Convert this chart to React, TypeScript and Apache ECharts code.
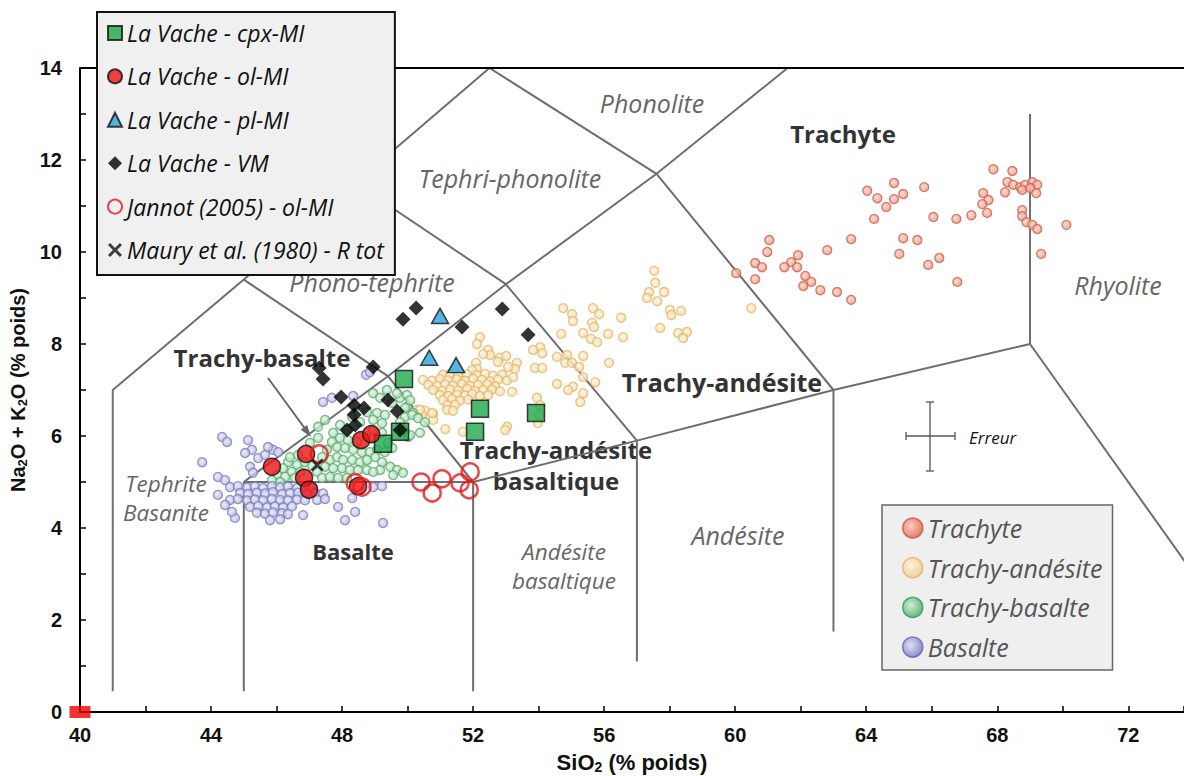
import React, { useEffect, useRef } from 'react';
import * as echarts from 'echarts';

// ---------- axes ----------
const X_MIN = 40;
const X_MAX = 73.7;
const Y_MIN = 0;
const Y_MAX = 14;
const xTickLabels = [40, 44, 48, 52, 56, 60, 64, 68, 72];
const yTickLabels = [0, 2, 4, 6, 8, 10, 12, 14];

// ---------- TAS field boundaries ----------
const boundaries: [number, number][][] = [
  [[41, 0.45], [41, 7], [45, 9.4], [48.4, 11.5], [52.5, 14]],
  [[45, 0.45], [45, 5], [52, 5]],
  [[45, 5], [49.4, 7.3], [53, 9.3], [57.6, 11.7], [61.6, 14]],
  [[45, 9.4], [49.4, 7.3], [52, 5], [52, 0.45]],
  [[48.4, 11.5], [53, 9.3], [57, 5.9], [57, 1.1]],
  [[52.5, 14], [57.6, 11.7], [63, 7], [63, 1.75]],
  [[52, 5], [57, 5.9], [63, 7], [69, 8], [77, 0]],
  [[69, 8], [69, 13]],
];
const topLine: [number, number][] = [[40, 14], [73.7, 14]];

// ---------- reference lavas (background) ----------
const trachyte: [number, number][] = [
  [67.88, 11.8], [68.46, 11.76], [68.31, 11.52], [68.49, 11.46], [68.7, 11.41], [68.85, 11.46], [69.07, 11.52],
  [69.22, 11.46], [68.24, 11.3], [68.76, 11.35], [69.01, 11.39], [69.19, 11.28], [67.57, 11.28], [67.73, 11.13],
  [67.54, 11.04], [67.69, 10.85], [67.21, 10.8], [66.75, 10.72], [66.05, 10.76], [65.77, 11.41], [65.13, 11.26],
  [64.85, 11.5], [64.85, 11.15], [64.61, 10.98], [64.34, 11.17], [64.03, 11.33], [64.24, 10.72], [68.76, 10.91],
  [68.76, 10.78], [68.89, 10.65], [69.07, 10.59], [69.22, 10.5], [70.11, 10.59], [69.34, 9.96], [65.13, 10.3],
  [65.56, 10.26], [65.01, 9.96], [66.23, 9.87], [65.89, 9.72], [66.78, 9.35], [63.54, 10.28], [62.81, 10.04],
  [61.92, 9.93], [61.71, 9.78], [61.89, 9.67], [61.5, 9.67], [62.14, 9.48], [62.32, 9.35], [62.08, 9.26],
  [62.6, 9.17], [63.11, 9.13], [63.54, 8.96], [61.04, 10.26], [60.98, 10.0], [60.61, 9.76], [60.82, 9.67],
  [60.61, 9.41], [60.03, 9.54],
];

const trachyAndesite: [number, number][] = [
  [57.53, 9.59], [57.56, 9.33], [57.37, 9.13], [57.83, 9.13], [57.62, 8.93], [57.31, 9.0], [58.01, 8.74],
  [58.35, 8.72], [58.05, 8.63], [57.71, 8.35], [58.26, 8.24], [58.53, 8.26], [58.41, 8.13],
  [54.75, 8.78], [55.02, 8.65], [55.05, 8.5], [55.66, 8.78], [55.85, 8.65], [55.63, 8.46], [55.69, 8.37],
  [56.52, 8.57], [54.69, 8.22], [55.36, 8.24], [55.6, 8.11], [55.79, 8.04], [56.12, 8.22], [56.58, 8.15],
  [54.05, 7.93], [54.11, 7.8], [53.83, 7.87], [54.56, 7.72], [54.87, 7.76], [55.36, 7.74], [54.81, 7.59],
  [55.02, 7.59], [55.24, 7.5], [53.89, 7.48], [54.11, 7.48], [56.15, 7.59], [55.36, 7.28], [55.73, 7.17],
  [54.56, 7.13], [55.05, 7.07], [54.9, 7.0], [55.36, 6.93], [55.27, 6.74], [60.49, 8.78],
  [52.21, 8.15], [52.12, 8.0], [52.46, 7.87], [52.52, 7.76], [52.31, 7.78], [52.82, 7.7], [53.01, 7.74],
  [52.76, 7.61], [53.34, 7.59], [53.28, 7.46], [53.07, 7.5], [52.09, 7.59], [52.12, 7.46], [51.97, 7.43],
  [51.08, 7.33], [51.3, 7.35], [51.54, 7.31], [51.82, 7.34], [52.12, 7.32], [52.37, 7.35], [52.61, 7.31], [52.89, 7.33],
  [50.47, 7.22], [50.75, 7.2], [50.99, 7.24], [51.24, 7.21], [51.51, 7.23], [51.76, 7.2], [52.0, 7.24],
  [52.27, 7.22], [52.52, 7.19], [52.76, 7.23], [53.04, 7.21],
  [50.63, 7.11], [50.9, 7.09], [51.15, 7.12], [51.39, 7.1], [51.66, 7.13], [51.91, 7.09], [52.15, 7.11],
  [52.43, 7.12], [52.67, 7.08],
  [50.78, 7.0], [51.05, 6.98], [51.3, 7.01], [51.54, 6.99], [51.82, 7.02], [52.06, 6.98], [52.31, 7.0],
  [52.58, 7.01], [52.82, 6.97],
  [50.99, 6.89], [51.24, 6.87], [51.51, 6.9], [51.76, 6.88], [51.97, 6.91], [52.21, 6.87], [52.46, 6.89],
  [51.08, 6.78], [51.36, 6.8], [51.6, 6.77], [51.85, 6.79],
  [51.21, 6.67], [51.45, 6.68],
  [50.29, 6.57], [50.53, 6.55], [51.21, 6.57], [51.39, 6.55],
  [50.44, 6.46], [50.78, 6.48], [50.78, 6.35],
  [53.19, 6.96], [53.22, 7.28], [53.95, 6.83], [54.05, 6.67], [53.98, 6.28], [53.04, 6.2], [52.98, 6.13],
  [51.15, 6.15], [51.69, 6.09], [50.38, 6.57], [50.75, 6.5], [54.02, 6.46],
];

const trachyBasalte: [number, number][] = [
  [48.95, 6.93], [49.16, 6.83], [49.53, 6.72], [49.77, 6.83], [49.98, 6.63], [49.07, 6.5], [49.31, 6.46],
  [48.95, 6.35], [49.22, 6.28], [48.76, 6.52], [48.31, 6.41], [48.55, 6.3], [47.94, 6.24], [48.15, 6.13],
  [47.73, 6.07], [47.94, 5.96], [48.18, 5.91], [48.46, 5.87], [47.69, 5.87], [47.85, 5.76], [48.09, 5.74],
  [48.34, 5.7], [48.61, 5.65], [48.85, 5.65], [49.07, 5.7], [49.31, 5.65], [49.53, 5.74], [49.01, 5.54],
  [49.22, 5.43], [49.47, 5.33], [49.68, 5.26], [49.86, 5.2], [49.16, 5.26], [49.56, 5.15], [47.54, 5.7],
  [47.39, 5.54], [47.63, 5.48], [47.85, 5.54], [48.03, 5.48], [48.31, 5.48], [48.55, 5.43], [48.76, 5.48],
  [47.48, 5.33], [47.73, 5.3], [48.0, 5.3], [48.24, 5.26], [48.49, 5.26], [48.76, 5.26], [48.95, 5.22],
  [47.24, 5.22], [47.39, 5.09], [47.63, 5.11], [47.88, 5.09], [48.15, 5.09], [46.35, 5.43], [46.63, 5.37],
  [46.2, 5.3], [46.47, 5.22], [46.72, 5.22], [46.02, 5.15], [46.26, 5.11], [46.56, 5.09], [45.86, 5.04],
  [46.11, 5.0], [46.41, 5.54], [46.66, 5.59], [47.02, 5.85], [47.27, 5.96], [49.92, 6.41], [49.77, 6.3],
  [50.17, 6.5], [48.95, 6.13], [49.22, 6.07], [48.95, 5.96], [49.86, 6.13], [50.02, 5.98], [49.4, 5.85],
  [49.37, 7.0], [49.68, 6.93], [49.98, 6.89], [50.08, 6.78], [49.92, 6.61], [50.14, 6.46], [50.32, 6.39],
  [50.53, 6.3], [50.38, 6.07], [50.08, 6.02], [47.48, 6.35], [47.27, 6.2], [46.87, 5.43], [47.09, 5.35],
];

const basalte: [number, number][] = [
  [44.34, 5.98], [44.49, 5.87], [45.13, 5.91], [45.25, 5.7], [43.73, 5.43], [45.89, 5.7], [46.05, 5.65],
  [45.44, 5.52], [45.65, 5.59], [45.19, 5.33], [45.28, 5.2], [44.21, 5.11], [44.43, 5.04], [47.42, 6.74],
  [47.69, 6.83], [48.34, 6.87], [48.73, 7.33], [48.85, 7.39], [45.04, 5.63], [45.74, 5.76],
  [44.58, 4.89], [44.82, 4.91], [45.1, 4.88], [45.34, 4.9], [45.59, 4.87], [45.86, 4.91], [46.11, 4.88],
  [46.35, 4.9], [46.63, 4.87], [46.87, 4.9], [47.11, 4.88],
  [44.89, 4.76], [45.13, 4.74], [45.4, 4.77], [45.65, 4.75], [45.89, 4.78], [46.17, 4.74], [46.41, 4.76],
  [46.66, 4.77], [46.93, 4.74], [47.18, 4.76], [47.42, 4.75],
  [44.58, 4.61], [44.82, 4.63], [45.1, 4.6], [45.34, 4.62], [45.59, 4.6], [45.86, 4.63], [46.11, 4.61],
  [46.35, 4.6], [46.63, 4.62], [46.87, 4.6], [47.24, 4.61], [47.48, 4.63],
  [45.19, 4.46], [45.44, 4.48], [45.71, 4.45], [45.95, 4.47], [46.2, 4.45], [46.47, 4.47],
  [45.4, 4.33], [45.65, 4.31], [45.89, 4.34], [46.17, 4.32], [46.35, 4.3],
  [45.8, 4.17], [46.11, 4.19], [44.73, 4.22], [46.81, 4.28], [47.88, 4.46], [48.31, 4.65], [48.09, 4.17],
  [49.25, 4.11], [48.95, 4.89], [49.22, 4.91], [48.4, 4.35], [44.21, 4.72], [44.43, 4.5], [44.64, 4.35],
];

// ---------- La Vache samples ----------
const cpxMI: [number, number][] = [
  [49.89, 7.24], [52.21, 6.59], [53.92, 6.5], [52.06, 6.09], [49.77, 6.09], [49.25, 5.83],
];
const olMI: [number, number][] = [
  [45.86, 5.33], [46.9, 5.61], [46.84, 5.09], [46.99, 4.83], [48.58, 5.91], [48.89, 6.04], [48.49, 4.91],
];
const plMI: [number, number][] = [
  [50.99, 8.61], [50.66, 7.7], [51.48, 7.54],
];
const vm: [number, number][] = [
  [47.3, 7.48], [47.42, 7.24], [47.97, 6.85], [48.37, 6.67], [48.67, 6.61], [48.37, 6.46], [48.4, 6.24],
  [48.15, 6.13], [49.4, 6.78], [49.68, 6.54], [49.77, 6.13], [48.95, 7.5], [49.86, 8.54], [50.26, 8.78],
  [51.66, 8.37], [52.89, 8.76], [53.68, 8.2],
];
const jannot: [number, number][] = [
  [47.3, 5.61], [48.4, 4.98], [48.61, 4.89], [50.41, 5.0], [50.75, 4.76], [51.05, 5.07], [51.6, 4.98],
  [51.91, 5.22], [51.88, 4.83],
];
const maury: [number, number][] = [[47.24, 5.37]];
const originMark: [number, number][] = [[40, 0]];

const sampleNames = [
  'La Vache - cpx-MI',
  'La Vache - ol-MI',
  'La Vache - pl-MI',
  'La Vache - VM',
  'Jannot (2005) - ol-MI',
  'Maury et al. (1980) - R tot',
];

const X_PATH =
  'path://M1.5,0 L5,3.5 L8.5,0 L10,1.5 L6.5,5 L10,8.5 L8.5,10 L5,6.5 L1.5,10 L0,8.5 L3.5,5 L0,1.5 Z';

function grad(c0: string, c1: string) {
  return new echarts.graphic.RadialGradient(0.4, 0.4, 0.65, [
    { offset: 0, color: c0 },
    { offset: 1, color: c1 },
  ]);
}

const GRAY_IT = { fontFamily: 'Open Sans', fontStyle: 'italic', fontSize: 25, fill: '#666' };
const BOLD_DK = { fontFamily: 'Open Sans', fontWeight: 'bold', fontSize: 24, fill: '#333' };

function label(text: string, x: number, y: number, st: any, extra: any = {}) {
  return {
    type: 'text',
    x,
    y,
    z: 1,
    silent: true,
    style: { text, textAlign: 'center', textVerticalAlign: 'middle', ...st, ...extra },
  };
}

const AXIS_FONT = 'Liberation Sans';
function nameRich(size: number) {
  return {
    a: { fontFamily: AXIS_FONT, fontWeight: 'bold', fontSize: size, color: '#111', lineHeight: 22 },
    s: { fontFamily: AXIS_FONT, fontWeight: 'bold', fontSize: Math.round(size * 0.64), color: '#111', lineHeight: 13, padding: [9, 0, 0, 0] },
  };
}

export default function App() {
  const ref = useRef<HTMLDivElement>(null);
  useEffect(() => {
    document.body.style.margin = '0';
    document.body.style.overflow = 'hidden';
    document.documentElement.style.overflow = 'hidden';
    if (!ref.current) return;
    const chart = echarts.init(ref.current, undefined, { renderer: 'svg' });

    const lineSeries = boundaries.map((seg, i) => ({
      name: 'b' + i,
      type: 'line',
      data: seg,
      symbol: 'none',
      silent: true,
      z: 1,
      lineStyle: { color: '#6e6e6e', width: 2 },
      clip: true,
    }));

    const bg = (name: string, data: [number, number][], c0: string, c1: string, bc: string) => ({
      name,
      type: 'scatter',
      data,
      symbol: 'circle',
      symbolSize: 9,
      z: 2,
      itemStyle: { color: grad(c0, c1), borderColor: bc, borderWidth: 1.3 },
    });

    const option: any = {
      animation: false,
      backgroundColor: '#ffffff',
      grid: { left: 80, right: 0, top: 68, bottom: 64, containLabel: false, outerBoundsMode: 'none' },
      xAxis: {
        type: 'value',
        min: X_MIN,
        max: X_MAX,
        interval: 2,
        name: '{a|SiO}{s|2}{a| (% poids)}',
        nameLocation: 'middle',
        nameGap: 39,
        nameTextStyle: { rich: nameRich(22) },
        axisLine: { onZero: false, lineStyle: { color: '#000', width: 2 } },
        axisTick: { inside: true, length: 6, lineStyle: { color: '#000', width: 1.5 } },
        axisLabel: {
          margin: 13,
          fontFamily: AXIS_FONT,
          fontWeight: 'bold',
          fontSize: 20,
          color: '#111',
          formatter: (v: number) => (xTickLabels.indexOf(v) >= 0 ? String(v) : ''),
        },
        splitLine: { show: false },
      },
      yAxis: {
        type: 'value',
        min: Y_MIN,
        max: Y_MAX,
        interval: 1,
        name: '{a|Na}{s|2}{a|O + K}{s|2}{a|O (% poids)}',
        nameLocation: 'middle',
        nameGap: 50,
        nameTextStyle: { rich: nameRich(20) },
        axisLine: { onZero: false, lineStyle: { color: '#000', width: 2 } },
        axisTick: { inside: true, length: 6, lineStyle: { color: '#000', width: 1.5 } },
        axisLabel: {
          margin: 18,
          fontFamily: AXIS_FONT,
          fontWeight: 'bold',
          fontSize: 20,
          color: '#111',
          formatter: (v: number) => (yTickLabels.indexOf(v) >= 0 ? String(v) : ''),
        },
        splitLine: { show: false },
      },
      legend: [
        {
          data: sampleNames,
          orient: 'vertical',
          left: 97,
          top: 12,
          padding: [9, 11, 13, 10],
          itemGap: 19.4,
          itemWidth: 14,
          itemHeight: 14,
          itemTextGap: 7,
          backgroundColor: '#f0f0f0',
          borderColor: '#111',
          borderWidth: 2,
          selectedMode: false,
          z: 10,
          textStyle: { fontFamily: 'Open Sans', fontStyle: 'italic', fontSize: 23, lineHeight: 24, color: '#111' },
        },
        {
          data: [
            { name: 'Trachyte', itemStyle: { color: grad('#fbc3b5', '#e65a46'), borderColor: '#c8503f', borderWidth: 1.5 } },
            { name: 'Trachy-andésite', itemStyle: { color: grad('#fff3dc', '#f4c67c'), borderColor: '#e2b062', borderWidth: 1.5 } },
            { name: 'Trachy-basalte', itemStyle: { color: grad('#c8eed3', '#3aa85a'), borderColor: '#2f9a50', borderWidth: 1.5 } },
            { name: 'Basalte', itemStyle: { color: grad('#dcdcf4', '#6e70c0'), borderColor: '#5e60b0', borderWidth: 1.5 } },
          ],
          orient: 'vertical',
          left: 882,
          top: 505,
          padding: [10, 10, 10, 20],
          itemGap: 13.7,
          itemWidth: 20,
          itemHeight: 20,
          itemTextGap: 11,
          backgroundColor: '#efefef',
          borderColor: '#666',
          borderWidth: 1.5,
          selectedMode: false,
          z: 10,
          textStyle: { fontFamily: 'Open Sans', fontStyle: 'italic', fontSize: 25, lineHeight: 26, color: '#555' },
        },
      ],
      graphic: [
        label('Phonolite', 652, 103, GRAY_IT),
        label('Tephri-phonolite', 510, 178, GRAY_IT),
        label('Phono-tephrite', 372, 282, GRAY_IT),
        label('Rhyolite', 1118, 285, GRAY_IT),
        label('Tephrite\nBasanite', 166, 498, GRAY_IT, { fontSize: 22.5, lineHeight: 28.5 }),
        label('Andésite\nbasaltique', 564, 566, GRAY_IT, { fontSize: 22.5, lineHeight: 29 }),
        label('Andésite', 738, 535, GRAY_IT),
        label('Trachyte', 843, 133, BOLD_DK),
        label('Trachy-basalte', 262, 357, BOLD_DK),
        label('Trachy-andésite', 722, 382, BOLD_DK, { fontSize: 25 }),
        label('Trachy-andésite\nbasaltique', 556, 465, BOLD_DK, { lineHeight: 31 }),
        label('Basalte', 353, 551, BOLD_DK, { fontSize: 22 }),
        {
          type: 'line',
          z: 1,
          silent: true,
          shape: { x1: 268, y1: 378, x2: 306, y2: 430 },
          style: { stroke: '#666', lineWidth: 2 },
        },
        {
          type: 'polygon',
          z: 1,
          silent: true,
          shape: { points: [[311, 437], [300.7, 429.7], [307.1, 424.9]] },
          style: { fill: '#666' },
        },
        // error cross
        { type: 'line', z: 1, silent: true, shape: { x1: 906, y1: 436, x2: 955, y2: 436 }, style: { stroke: '#555', lineWidth: 1.3 } },
        { type: 'line', z: 1, silent: true, shape: { x1: 906, y1: 432, x2: 906, y2: 440 }, style: { stroke: '#555', lineWidth: 1.3 } },
        { type: 'line', z: 1, silent: true, shape: { x1: 955, y1: 432, x2: 955, y2: 440 }, style: { stroke: '#555', lineWidth: 1.3 } },
        { type: 'line', z: 1, silent: true, shape: { x1: 930, y1: 402, x2: 930, y2: 471 }, style: { stroke: '#555', lineWidth: 1.3 } },
        { type: 'line', z: 1, silent: true, shape: { x1: 926, y1: 402, x2: 934, y2: 402 }, style: { stroke: '#555', lineWidth: 1.3 } },
        { type: 'line', z: 1, silent: true, shape: { x1: 926, y1: 471, x2: 934, y2: 471 }, style: { stroke: '#555', lineWidth: 1.3 } },
        {
          type: 'text',
          x: 969,
          y: 437,
          z: 1,
          silent: true,
          style: { text: 'Erreur', fontFamily: 'Open Sans', fontStyle: 'italic', fontSize: 17, fill: '#111', textVerticalAlign: 'middle' },
        },
      ],
      series: [
        ...lineSeries,
        {
          name: 'top',
          type: 'line',
          data: topLine,
          symbol: 'none',
          silent: true,
          z: 1,
          lineStyle: { color: '#000', width: 2 },
        },
        bg('Trachyte', trachyte, '#fbd3c8', '#f0907c', '#c9604c'),
        bg('Trachy-andésite', trachyAndesite, '#fff6e4', '#f7d79e', '#e2b66c'),
        bg('Trachy-basalte', trachyBasalte, '#e0f4e5', '#a6d8b2', '#5aaa6e'),
        bg('Basalte', basalte, '#e6e6f6', '#b3b4de', '#7b7dbe'),
        {
          name: sampleNames[0],
          type: 'scatter',
          data: cpxMI,
          symbol: 'rect',
          symbolSize: 17,
          z: 5,
          itemStyle: { color: '#1ea84a', borderColor: '#111', borderWidth: 1.5 },
        },
        {
          name: sampleNames[1],
          type: 'scatter',
          data: olMI,
          symbol: 'circle',
          symbolSize: 17,
          z: 5,
          itemStyle: { color: '#ee1111', borderColor: '#111', borderWidth: 1.5 },
        },
        {
          name: sampleNames[2],
          type: 'scatter',
          data: plMI,
          symbol: 'triangle',
          symbolSize: [17, 15],
          z: 5,
          itemStyle: { color: '#2aa4e0', borderColor: '#111', borderWidth: 1.5 },
        },
        {
          name: sampleNames[3],
          type: 'scatter',
          data: vm,
          symbol: 'diamond',
          symbolSize: 15,
          z: 6,
          itemStyle: { color: '#000' },
        },
        {
          name: sampleNames[4],
          type: 'scatter',
          data: jannot,
          symbol: 'circle',
          symbolSize: 17,
          z: 6,
          itemStyle: { color: 'rgba(255,255,255,0)', borderColor: '#e31a1a', borderWidth: 2.5 },
        },
        {
          name: sampleNames[5],
          type: 'scatter',
          data: maury,
          symbol: X_PATH,
          symbolSize: 13,
          z: 7,
          itemStyle: { color: '#111' },
        },
        {
          name: 'origin',
          type: 'scatter',
          data: originMark,
          symbol: 'rect',
          symbolSize: [21, 12],
          z: 8,
          clip: false,
          silent: true,
          itemStyle: { color: '#ee0000' },
        },
      ],
    };
    chart.setOption(option);
    return () => chart.dispose();
  }, []);
  return <div ref={ref} style={{ width: 1184, height: 776, background: '#fff' }} />;
}
